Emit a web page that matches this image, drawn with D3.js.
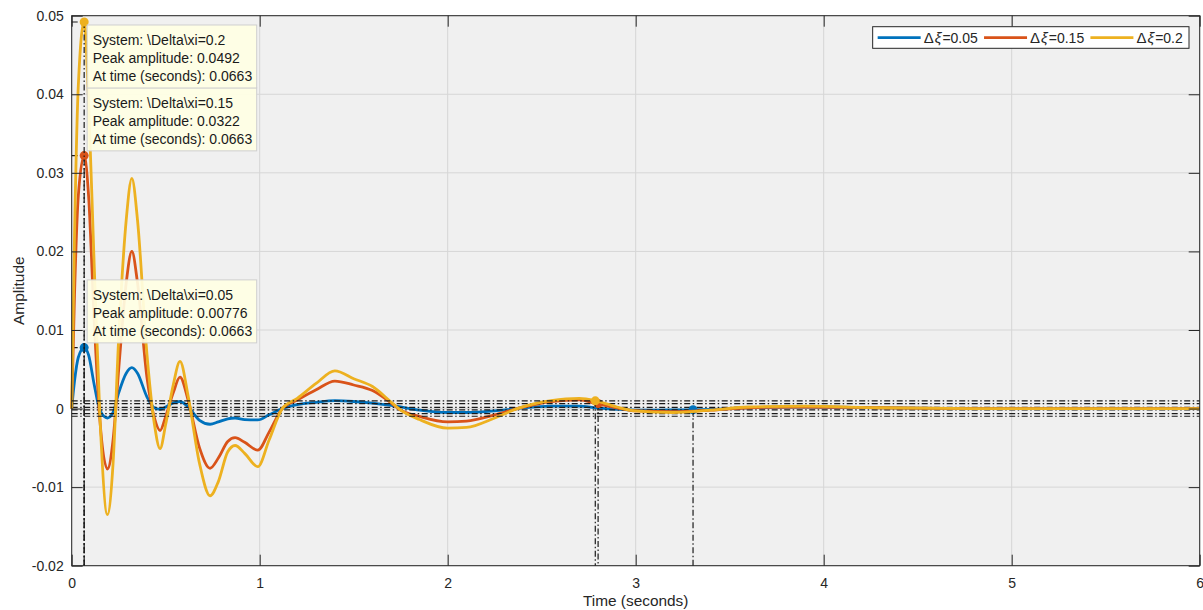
<!DOCTYPE html>
<html>
<head>
<meta charset="utf-8">
<title>Impulse response</title>
<style type="text/css">
    body{ margin:0; background:#fff; }
    svg text{ font-family:"Liberation Sans", Arial, Helvetica, sans-serif; fill:#262626; }
</style>
</head>
<body>
<svg id="chart" width="1203" height="610"></svg>

<script src="https://d3js.org/d3.v7.min.js"></script>
<script type="text/javascript">

// values
var time = [0, 0.015, 0.035, 0.0663, 0.09, 0.12, 0.15, 0.19, 0.22, 0.25,
            0.29, 0.32, 0.35, 0.40, 0.44, 0.47, 0.50, 0.54, 0.576, 0.62,
            0.68, 0.736, 0.78, 0.83, 0.869, 0.92, 0.99, 1.05, 1.12, 1.2,
            1.3, 1.4, 1.5, 1.6, 1.7, 1.75, 1.85, 2.0, 2.1, 2.25,
            2.37, 2.55, 2.7, 2.79, 2.9, 3.0, 3.2, 3.4, 3.6, 3.9,
            4.3, 4.8, 5.5, 6];

var dxi005 = [0, 0.0035, 0.0065, 0.00776, 0.0068, 0.003, -0.0002, -0.0012, -0.0005, 0.002,
              0.0045, 0.0052, 0.0045, 0.0015, 0.0001, -0.0001, 0.0002, 0.0007, 0.0009, 0.0002,
              -0.0015, -0.002, -0.0017, -0.0013, -0.0012, -0.0014, -0.00145, -0.0008, 0, 0.0005,
              0.0008, 0.001, 0.0009, 0.0007, 0.0004, 0.0002, -0.0002, -0.0005, -0.0005, -0.0003,
              0, 0.0003, 0.0003, 0.0001, -0.0001, -0.0002, -0.00018, -0.0001, 0.0001, 0.0002,
              0.0001, 0, 0, 0];

var dxi015 = [0, 0.0145, 0.027, 0.0322, 0.027, 0.011, -0.0015, -0.0077, -0.004, 0.005,
              0.016, 0.020, 0.016, 0.004, -0.0012, -0.0028, -0.001, 0.002, 0.004, 0.001,
              -0.005, -0.0076, -0.0063, -0.0042, -0.0037, -0.0043, -0.0053, -0.003, 0, 0.0011,
              0.0024, 0.0035, 0.003, 0.0023, 0.0007, -0.0002, -0.001, -0.0017, -0.0016, -0.0008,
              0, 0.0009, 0.0011, 0.00064, 0.0001, -0.0003, -0.0004, -0.0002, 0.0001, 0.0002,
              0.0001, 0, 0, 0];

var dxi02 = [0, 0.022, 0.041, 0.0492, 0.039, 0.018, -0.001, -0.0135, -0.007, 0.009,
             0.024, 0.0293, 0.024, 0.007, -0.002, -0.0051, -0.002, 0.003, 0.006, 0.0015,
             -0.007, -0.0111, -0.0093, -0.0055, -0.0047, -0.0057, -0.0074, -0.004, 0, 0.0013,
             0.0032, 0.0048, 0.0038, 0.0028, 0.0008, -0.0002, -0.0014, -0.0025, -0.0024, -0.0012,
             0, 0.001, 0.0013, 0.00098, 0.0002, -0.0003, -0.0005, -0.0002, 0.0002, 0.0003,
             0.0001, 0, 0, 0];

var systems    = ['0.05', '0.15', '0.2'];
var peakTime   = [0.0663, 0.0663, 0.0663];
var peakAmp    = [0.00776, 0.0322, 0.0492];
var peakLabel  = ['0.00776', '0.0322', '0.0492'];
var timeLabel  = ['0.0663', '0.0663', '0.0663'];
var settleTime = [3.305, 2.80, 2.785];
var settleAmp  = [-0.00015, 0.00064, 0.00098];
var settleBand = [0.000155, 0.00064, 0.00098];

var xTicks = [0, 1, 2, 3, 4, 5, 6];
var yTicks = [-0.02, -0.01, 0, 0.01, 0.02, 0.03, 0.04, 0.05];
var yTickLabels = ['-0.02', '-0.01', '0', '0.01', '0.02', '0.03', '0.04', '0.05'];

var colors = ['#0072BD', '#D95319', '#EDB120'];
var values = [dxi005, dxi015, dxi02];


var pL = 71.7, pR = 1199.7, pT = 15.7, pB = 565.7;

var svg = d3.select('#chart');

var x = d3.scaleLinear().domain([0, 6]).range([pL, pR]);
var y = d3.scaleLinear().domain([-0.02, 0.05]).range([pB, pT]);

svg.append('rect')
    .attr('x', pL).attr('y', pT)
    .attr('width', pR - pL).attr('height', pB - pT)
    .attr('fill', '#f0f0f0');

// grid
var grid = svg.append('g').attr('stroke', '#d6d6d6').attr('stroke-width', 1);
grid.selectAll('.gx').data(xTicks).enter().append('line')
    .attr('x1', x).attr('x2', x).attr('y1', pT).attr('y2', pB);
grid.selectAll('.gy').data(yTicks).enter().append('line')
    .attr('x1', pL).attr('x2', pR).attr('y1', y).attr('y2', y);

var plot = svg.append('g');

var line = d3.line()
    .x(function(d){ return x(d[0]) })
    .y(function(d){ return y(d[1]) })
    .curve(d3.curveMonotoneX);

var dash = '6 2.5 1.5 2.5';

values.forEach(function(vals, i){
    var pts = time.map(function(t, k){ return [t, vals[k]] });

    plot.append('path')
        .datum(pts)
        .attr('d', line)
        .attr('fill', 'none')
        .attr('stroke', colors[i])
        .attr('stroke-width', 2.8)
        .attr('stroke-linejoin', 'round');

    var c = plot.append('g')
        .attr('stroke', '#1a1a1a')
        .attr('stroke-width', 1.2)
        .attr('stroke-dasharray', dash)
        .attr('fill', 'none');

    // peak response lines
    c.append('line')
        .attr('x1', x(0)).attr('x2', x(peakTime[i]))
        .attr('y1', y(peakAmp[i])).attr('y2', y(peakAmp[i]));
    c.append('line')
        .attr('x1', x(peakTime[i])).attr('x2', x(peakTime[i]))
        .attr('y1', y(peakAmp[i])).attr('y2', pB);

    // settling bounds and time
    [settleBand[i], -settleBand[i]].forEach(function(b){
        c.append('line')
            .attr('x1', pL).attr('x2', pR)
            .attr('y1', y(b)).attr('y2', y(b));
    });
    c.append('line')
        .attr('x1', x(settleTime[i])).attr('x2', x(settleTime[i]))
        .attr('y1', y(settleAmp[i])).attr('y2', pB);

    plot.append('circle')
        .attr('cx', x(settleTime[i])).attr('cy', y(settleAmp[i]))
        .attr('r', 4.5).attr('fill', colors[i]);
    plot.append('circle')
        .attr('cx', x(peakTime[i])).attr('cy', y(peakAmp[i]))
        .attr('r', 4.5).attr('fill', colors[i]);
});


// data tips
values.forEach(function(vals, i){
    var px = x(peakTime[i]), py = y(peakAmp[i]);
    var h = 63;
    var g = plot.append('g');
    var rect = g.append('rect')
        .attr('fill', '#ffffe4')
        .attr('fill-opacity', 0.92)
        .attr('stroke', '#cfcfcf')
        .attr('stroke-width', 1);

    var lines = [
        'System: \\Delta\\xi=' + systems[i],
        'Peak amplitude: ' + peakLabel[i],
        'At time (seconds): ' + timeLabel[i]
    ];
    var bx = px + 3;
    var by = py - 4.7 - h;
    if(by < pT) by = py + 3;

    var w = 0;
    lines.forEach(function(s, k){
        var t = g.append('text')
            .attr('x', bx + 5.5)
            .attr('y', by + 20.5 + k * 18)
            .style('font-size', '14px')
            .style('fill', '#1a1a1a')
            .text(s);
        w = Math.max(w, t.node().getComputedTextLength());
    });
    rect.attr('x', bx).attr('y', by).attr('width', w + 10).attr('height', h);
});


// axes, MATLAB style: ticks inside, box on all sides
var tick = 11;

var xAxis = svg.append('g')
    .attr('transform', 'translate(0,' + pB + ')')
    .call(d3.axisBottom(x).tickValues(xTicks).tickSizeInner(-tick).tickSizeOuter(0).tickPadding(12).tickFormat(d3.format('d')));
var yAxis = svg.append('g')
    .attr('transform', 'translate(' + pL + ',0)')
    .call(d3.axisLeft(y).tickValues(yTicks).tickSizeInner(-tick).tickSizeOuter(0).tickPadding(8)
        .tickFormat(function(d, k){ return yTickLabels[k] }));
var xTop = svg.append('g')
    .attr('transform', 'translate(0,' + pT + ')')
    .call(d3.axisTop(x).tickValues(xTicks).tickSizeInner(-tick).tickSizeOuter(0).tickFormat(''));
var yRight = svg.append('g')
    .attr('transform', 'translate(' + pR + ',0)')
    .call(d3.axisRight(y).tickValues(yTicks).tickSizeInner(-tick).tickSizeOuter(0).tickFormat(''));

[xAxis, yAxis, xTop, yRight].forEach(function(a){
    a.select('.domain').remove();
    a.selectAll('line').attr('stroke', '#262626');
    a.selectAll('text')
        .style('font-family', '"Liberation Sans", Arial, sans-serif')
        .style('font-size', '14px')
        .attr('fill', '#262626');
});

svg.append('rect')
    .attr('x', pL).attr('y', pT)
    .attr('width', pR - pL).attr('height', pB - pT)
    .attr('fill', 'none')
    .attr('stroke', '#262626')
    .attr('stroke-width', 1);

svg.append('text')
    .attr('x', (pL + pR) / 2)
    .attr('y', 606)
    .attr('text-anchor', 'middle')
    .style('font-size', '15.4px')
    .text('Time (seconds)');

svg.append('text')
    .attr('transform', 'translate(24,' + ((pT + pB) / 2) + ') rotate(-90)')
    .attr('text-anchor', 'middle')
    .style('font-size', '15.4px')
    .text('Amplitude');


// legend
var legend = svg.append('g');
var lbox = legend.append('rect')
    .attr('fill', '#fff')
    .attr('stroke', '#262626')
    .attr('stroke-width', 1);

var lx = 5, ly = 11;
var items = legend.append('g');
systems.forEach(function(s, i){
    items.append('line')
        .attr('x1', lx).attr('x2', lx + 43)
        .attr('y1', ly).attr('y2', ly)
        .attr('stroke', colors[i])
        .attr('stroke-width', 2.8);
    var t = items.append('text')
        .attr('x', lx + 46)
        .attr('y', ly + 5)
        .style('font-size', '14px');
    t.append('tspan').style('font-size', '15px').text('\u0394');
    t.append('tspan').style('font-size', '15px').style('font-style', 'italic').attr('dx', 1).text('\u03be');
    t.append('tspan').attr('dx', 1).text('=' + s);
    lx += 46 + t.node().getBBox().width + 6;
});

var lw = lx;
lbox.attr('x', 0).attr('y', 0).attr('width', lw).attr('height', 21.6);
legend.attr('transform', 'translate(' + (1189 - lw) + ',26.7)');

</script>
</body>
</html>
